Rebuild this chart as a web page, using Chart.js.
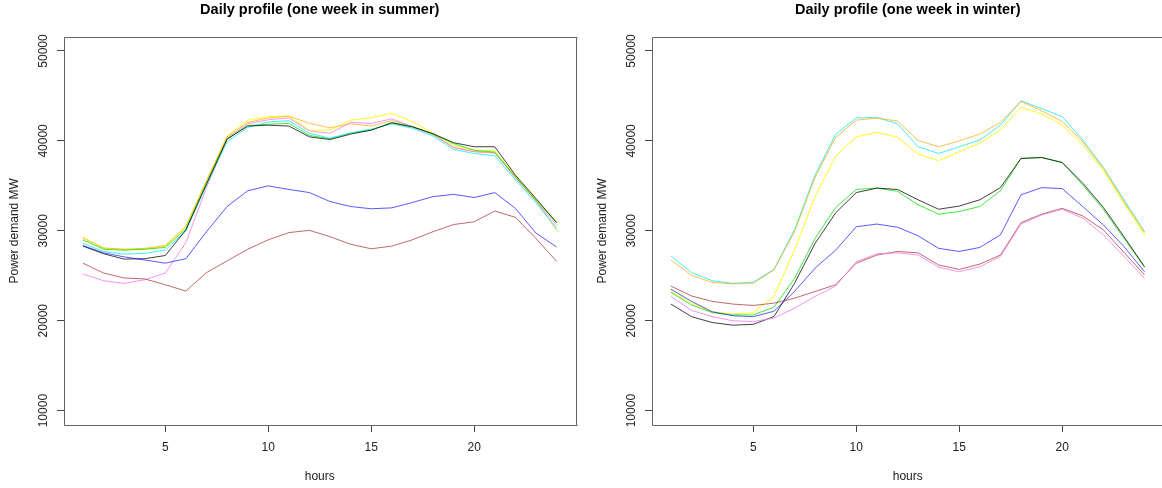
<!DOCTYPE html>
<html>
<head>
<meta charset="utf-8">
<script src="https://cdn.jsdelivr.net/npm/chart.js@4.4.1/dist/chart.umd.min.js"></script>
<style>
  html, body { margin: 0; padding: 0; background: #fff; overflow: hidden; }
  #page { position: relative; width: 1162px; height: 488px; overflow: hidden; }
  .panel { position: absolute; top: 0; width: 590px; height: 488px; }
  #summerBox { left: 0; }
  #winterBox { left: 588px; }
</style>
</head>
<body>
<div id="page">
  <div class="panel" id="summerBox"><canvas id="summerChart" width="590" height="488"></canvas></div>
  <div class="panel" id="winterBox"><canvas id="winterChart" width="590" height="488"></canvas></div>
</div>

<script>
// hours of the day
const hours = [1, 2, 3, 4, 5, 6, 7, 8, 9, 10, 11, 12, 13, 14, 15, 16, 17, 18, 19, 20, 21, 22, 23, 24];
const xTicks = [5, 10, 15, 20];
const yTicks = [10000, 20000, 30000, 40000, 50000];

// ================= SUMMER (MW) =================
const summerBlack  = [28300, 27450, 26850, 26900, 27250, 30100, 35200, 40200, 41650, 41750, 41650, 40450, 40150, 40750, 41200, 42000, 41550, 40800, 39800, 39350, 39350, 36200, 33600, 30900];
const summerBlue   = [28350, 27550, 27100, 26750, 26400, 26900, 29900, 32700, 34450, 35000, 34600, 34250, 33250, 32700, 32450, 32550, 33150, 33800, 34050, 33700, 34250, 32500, 29750, 28200];
const summerBrown  = [26400, 25300, 24750, 24650, 24000, 23300, 25350, 26650, 27950, 29000, 29800, 30050, 29350, 28500, 28000, 28300, 29000, 29900, 30700, 31000, 32200, 31500, 29150, 26600];
const summerViolet = [25200, 24450, 24150, 24550, 25300, 28700, 34800, 40300, 41900, 42350, 42550, 41100, 40850, 42050, 41950, 42450, 41600, 40700, 39300, 38800, 38700, 35900, 33300, 30650];
const summerCyan   = [28600, 27700, 27400, 27500, 27850, 30000, 35100, 39900, 41500, 42100, 42250, 40850, 40300, 40900, 41300, 41900, 41400, 40550, 39050, 38600, 38350, 35700, 33100, 30300];
const summerOrange = [29200, 28100, 27950, 28050, 28350, 30500, 35600, 40450, 42050, 42550, 42750, 41950, 41450, 41900, 41650, 42250, 41600, 40750, 39250, 38800, 38650, 36000, 33400, 30100];
const summerYellow = [29300, 28050, 27900, 27950, 28250, 30450, 35500, 40550, 42300, 42700, 42750, 41200, 41200, 42300, 42600, 43050, 42150, 40850, 39500, 39000, 38900, 36100, 33500, 31000];
const summerGreen  = [29000, 27950, 27850, 27950, 28150, 30200, 35300, 40200, 41700, 41850, 41950, 40600, 40250, 40850, 41200, 42050, 41600, 40750, 39700, 38950, 38750, 36000, 33400, 30950];

// ================= WINTER (MW) =================
const winterBlack  = [21850, 20450, 19800, 19500, 19600, 20450, 24150, 28600, 32000, 34250, 34750, 34600, 33450, 32400, 32750, 33450, 34800, 38050, 38150, 37600, 35300, 32600, 29350, 26000];
const winterBlue   = [23500, 22150, 21000, 20550, 20450, 21050, 23250, 25850, 27850, 30450, 30750, 30400, 29450, 28050, 27700, 28150, 29550, 34000, 34800, 34700, 32700, 30650, 28250, 25450];
const winterBrown  = [23850, 22750, 22150, 21850, 21700, 21950, 22500, 23250, 24000, 26400, 27300, 27700, 27550, 26200, 25700, 26300, 27300, 30900, 31850, 32500, 31650, 30100, 27600, 25100];
const winterViolet = [22700, 21150, 20450, 20000, 19900, 20300, 21400, 22700, 23850, 26550, 27450, 27550, 27300, 25950, 25450, 26000, 27150, 30750, 31750, 32400, 31400, 29550, 27150, 24700];
const winterCyan   = [27200, 25350, 24450, 24150, 24300, 25700, 30100, 36200, 40750, 42550, 42600, 41900, 39350, 38600, 39350, 40100, 41750, 44450, 43600, 42700, 40100, 37050, 33450, 29900];
const winterOrange = [26750, 25050, 24250, 24100, 24150, 25650, 29900, 35950, 40400, 42300, 42550, 42200, 40050, 39350, 40000, 40750, 42050, 44400, 43350, 42150, 39900, 36950, 33250, 29800];
const winterYellow = [23250, 21950, 21000, 20750, 20900, 22700, 27850, 33800, 38300, 40450, 40950, 40400, 38550, 37800, 38800, 39750, 41200, 43750, 43000, 41750, 39550, 36750, 33050, 29550];
const winterGreen  = [23150, 21750, 20900, 20650, 20650, 21500, 24700, 29150, 32600, 34600, 34750, 34400, 32900, 31850, 32150, 32700, 34450, 38050, 38150, 37600, 35100, 32400, 29150, 25950];

const lineColors = {
  black: "rgba(0,0,0,0.75)",
  blue: "rgba(0,0,255,0.65)",
  brown: "rgba(165,42,42,0.7)",
  violet: "rgba(238,130,238,0.85)",
  cyan: "rgba(0,235,235,0.75)",
  orange: "rgba(255,165,0,0.7)",
  yellow: "rgba(255,255,0,0.9)",
  green: "rgba(0,225,0,0.75)"
};

const font = "'Liberation Sans', Arial, Helvetica, sans-serif";

// box around the plot region, like R's box(); the right side of the
// winter panel falls just outside the picture, so it can be left off
const boxPlugin = {
  id: "plotBox",
  beforeDatasetsDraw(chart, args, opts) {
    const a = chart.chartArea;
    const ctx = chart.ctx;
    const l = Math.round(a.left) + 0.5, t = Math.round(a.top) + 0.5;
    const r = Math.round(a.right) + 0.5, b = Math.round(a.bottom) + 0.5;
    ctx.save();
    ctx.strokeStyle = "#666";
    ctx.lineWidth = 1;
    ctx.beginPath();
    ctx.moveTo(r + 1, t);
    ctx.lineTo(l, t);
    ctx.lineTo(l, b);
    ctx.lineTo(r + 1, b);
    if (opts.right !== false) {
      ctx.moveTo(r, t);
      ctx.lineTo(r, b);
    }
    ctx.stroke();
    ctx.restore();
  }
};

function makeChart(canvasId, title, series, rightSide) {
  const datasets = series.map(s => ({
    label: s.name,
    data: s.values.map((v, i) => ({ x: hours[i], y: v })),
    borderColor: lineColors[s.name],
    borderWidth: 1,
    pointRadius: 0,
    fill: false,
    tension: 0
  }));

  const ctx = document.getElementById(canvasId).getContext("2d");
  return new Chart(ctx, {
    type: "line",
    data: { datasets },
    plugins: [boxPlugin],
    options: {
      responsive: false,
      animation: false,
      devicePixelRatio: 1,
      layout: { padding: { left: 0, right: 14.5, top: 0, bottom: 0 } },
      plugins: {
        legend: { display: false },
        tooltip: { enabled: false },
        plotBox: { right: rightSide },
        title: {
          display: true,
          text: title,
          fullSize: false,
          color: "#000",
          font: { family: font, size: 14.5, weight: "bold" },
          padding: { top: 1, bottom: 18.2 }
        }
      },
      scales: {
        x: {
          type: "linear",
          min: 0.08,
          max: 24.92,
          afterBuildTicks: scale => { scale.ticks = xTicks.map(v => ({ value: v })); },
          afterFit: scale => { scale.height = 63; },
          grid: { drawOnChartArea: false, drawTicks: true, tickLength: 7, color: "#444" },
          border: { display: false },
          ticks: { color: "#222", font: { family: font, size: 12 }, padding: 8, maxRotation: 0 },
          title: {
            display: true,
            text: "hours",
            color: "#222",
            font: { family: font, size: 12 },
            padding: { top: 0, bottom: 4 }
          }
        },
        y: {
          type: "linear",
          min: 8400,
          max: 51600,
          afterBuildTicks: scale => { scale.ticks = yTicks.map(v => ({ value: v })); },
          afterFit: scale => { scale.width = 64; },
          grid: { drawOnChartArea: false, drawTicks: true, tickLength: 7, color: "#444" },
          border: { display: false },
          ticks: {
            color: "#222",
            font: { family: font, size: 12 },
            minRotation: 90,
            maxRotation: 90,
            crossAlign: "center",
            padding: -3,
            callback: v => String(v)
          },
          title: {
            display: true,
            text: "Power demand MW",
            color: "#222",
            font: { family: font, size: 12 },
            padding: { top: 7, bottom: 0 }
          }
        }
      }
    }
  });
}

makeChart("summerChart", "Daily profile (one week in summer)", [
  { name: "brown", values: summerBrown },
  { name: "blue", values: summerBlue },
  { name: "black", values: summerBlack },
  { name: "cyan", values: summerCyan },
  { name: "green", values: summerGreen },
  { name: "violet", values: summerViolet },
  { name: "orange", values: summerOrange },
  { name: "yellow", values: summerYellow }
], true);

makeChart("winterChart", "Daily profile (one week in winter)", [
  { name: "violet", values: winterViolet },
  { name: "brown", values: winterBrown },
  { name: "blue", values: winterBlue },
  { name: "black", values: winterBlack },
  { name: "green", values: winterGreen },
  { name: "yellow", values: winterYellow },
  { name: "orange", values: winterOrange },
  { name: "cyan", values: winterCyan }
], false);
</script>
</body>
</html>
